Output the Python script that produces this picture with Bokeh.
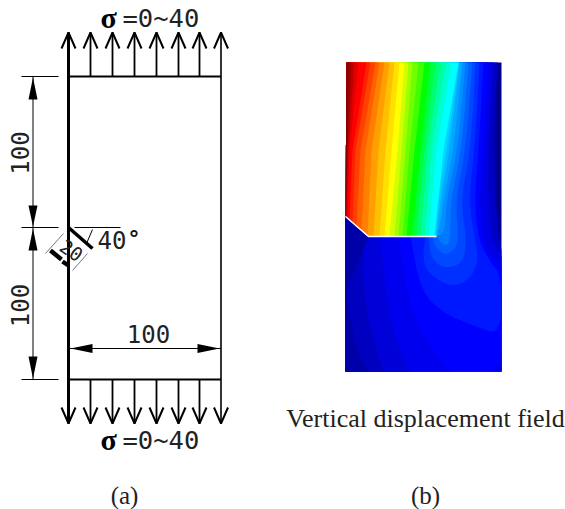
from bokeh.plotting import figure
from bokeh.models import Range1d
from bokeh.core.properties import value
from bokeh.embed import file_html
from bokeh.resources import INLINE
import numpy as np

# ---------- panel (a): specimen sketch, in picture coordinates ----------
load_x = [68, 90, 112, 134, 156, 178, 199, 220.5]
plate_left, plate_right = 68, 220.5
plate_top, plate_mid, plate_bottom = 76, 227, 379
arrow_top_tip, arrow_top_barb = 32, 48
arrow_bot_tip, arrow_bot_barb = 423, 407
barb_half = 7
dim_x = 32.5
dim_y = 348
sigma_label = "\u03c3"
load_label = "=0~40"
dim_label = "100"
angle_label = "40"
degree_label = "\u00b0"
crack_label = "20"

# ---------- panel (b): vertical displacement field ----------
field_left_top, field_right, field_top, field_bottom = 346, 501, 62, 371
crack_x = [345, 368, 436]
crack_y = [216, 236, 236]

# rainbow bands: colour and the x of the band's right edge at top, middle, crack
band_colors = ["#00ffff", "#00ffd0", "#00ffa0", "#00ff70", "#00ff40", "#00ff00",
               "#40ff00", "#70ff00", "#a0ff00", "#d0ff00", "#ffff00", "#ffe000",
               "#ffc000", "#ffa000", "#ff8000", "#ff6000", "#ff4000", "#ff2000",
               "#ff0000", "#e00000", "#c00000", "#a00000", "#800000"]
band_top = [458, 451, 445, 440, 435, 430, 424, 418, 412, 408, 404, 399, 394, 389,
            384, 379, 375, 370, 366, 358, 354, 351, 348]
band_mid = [443, 436, 431, 427, 424, 420, 414, 409, 405, 401, 397, 391, 385, 378,
            371, 365, 360, 355, 352, 349, 348, 347, 346.5]
band_bot = [434, 428, 424, 420, 416, 412, 406, 402, 398, 394, 389, 384, 379, 373,
            367, 361, 356, 352, 349, 347, 346, 345.6, 345.3]

# blue contours, wrapping round the crack tip (polylines)
right_blues = [
    ("#0000c4", [(497, 62), (494, 120), (494, 180), (497, 225), (501, 250)]),
    ("#0000e4", [(493, 62), (489, 120), (487, 180), (490, 225), (493, 243), (501, 256)]),
    ("#0000ff", [(488, 62), (483, 150), (479, 200), (483, 240), (487, 253), (501, 265)]),
]
lower_left_blues = [
    ("#0000ee", [(398, 236), (408, 300), (428, 345), (450, 371)]),
    ("#0000d8", [(380, 236), (385, 290), (395, 340), (410, 371)]),
    ("#0000c0", [(364, 232), (362, 280), (370, 330), (383, 371)]),
    ("#0000a8", [(346, 290), (350, 320), (356, 350), (368, 371)]),
]
corner_blue = [(493, 371), (501, 357), (501, 371)]
lobes = [
    ("#0018ff", [(483, 62), (478, 150), (474, 200), (478, 240), (490, 262), (501, 275),
                 (501, 335), (473, 325), (443, 313), (420, 290), (410, 236)]),
    ("#0030ff", [(479, 62), (474, 150), (468, 200), (474, 237), (478, 260), (470, 278),
                 (452, 287), (430, 275), (422, 260), (425, 236)]),
    ("#0048ff", [(475, 62), (470, 150), (460, 200), (466, 237), (463, 263), (443, 268),
                 (430, 257), (428, 236)]),
    ("#0060ff", [(472, 62), (465, 150), (455, 200), (458, 237), (455, 248), (445, 255),
                 (435, 247), (432, 236)]),
    ("#0078ff", [(468, 62), (461, 150), (450, 200), (450, 237), (447, 245), (441, 243),
                 (436, 236)]),
    ("#0090ff", [(465, 62), (457, 150), (446, 200), (445, 222), (443, 232), (436, 236)]),
    ("#00a8ff", [(462, 62), (453, 150), (443, 200), (440, 222), (436, 236)]),
    ("#00c0ff", [(459, 62), (449, 150), (440, 200), (436, 236)]),
    ("#00d8ff", [(458.5, 62), (446, 150), (438, 200), (435, 236)]),
]

caption_b = "Vertical displacement field"
sub_a, sub_b = "(a)", "(b)"

MONO = value("DejaVu Sans Mono")
SERIF = value("Liberation Serif")


def smooth(pts, rounds=2):
    pts = [tuple(q) for q in pts]
    for _ in range(rounds):
        out = [pts[0]]
        for a, b in zip(pts[:-1], pts[1:]):
            out.append((0.75 * a[0] + 0.25 * b[0], 0.75 * a[1] + 0.25 * b[1]))
            out.append((0.25 * a[0] + 0.75 * b[0], 0.25 * a[1] + 0.75 * b[1]))
        out.append(pts[-1])
        pts = out
    return pts


def crack_tail(x):
    pts = [(cx, cy) for cx, cy in zip(crack_x, crack_y) if cx < x]
    return pts[::-1]


p = figure(width=565, height=509, x_range=Range1d(0, 565), y_range=Range1d(509, 0),
           output_backend="svg", toolbar_location=None, min_border=0)
p.axis.visible = False
p.grid.visible = False
p.outline_line_color = None
p.background_fill_color = "white"
p.border_fill_color = "white"


def poly(pts, color):
    xs, ys = zip(*pts)
    p.patch(list(xs), list(ys), fill_color=color, line_color=None)


# ---- field ----
whole = [(field_left_top, field_top), (field_right, field_top), (field_right, field_bottom),
         (crack_x[0], field_bottom), (crack_x[0], crack_y[0])]
poly(whole, "#000090")
for color, line in right_blues:
    poly([(field_left_top, field_top)] + smooth(line) +
         [(field_right, field_bottom), (crack_x[0], field_bottom), (crack_x[0], crack_y[0])], color)
for color, line in lower_left_blues:
    if line[0][1] >= 232:
        tail = [(crack_x[0], crack_y[0]), (crack_x[1], crack_y[1])]
    else:
        tail = [(crack_x[0], line[0][1])]
    poly(smooth(line) + [(crack_x[0], field_bottom)] + tail, color)
poly(corner_blue, "#0000e8")
for color, line in lobes:
    poly([(field_left_top, field_top)] + smooth(line) + crack_tail(line[-1][0]) +
         [(crack_x[0], crack_y[0])], color)
for color, t, m, b in zip(band_colors, band_top, band_mid, band_bot):
    by = float(np.interp(b, crack_x, crack_y))
    poly([(field_left_top, field_top), (t, field_top), (m, 150), (b, by)] +
         crack_tail(b) + [(crack_x[0], crack_y[0])], color)
p.line(crack_x, crack_y, line_color="white", line_width=1.6)

# ---- plate ----
p.line([plate_left, plate_left], [arrow_top_tip, arrow_bot_tip], line_color="black", line_width=3)
p.line([plate_right, plate_right], [arrow_top_tip, arrow_bot_tip], line_color="black", line_width=1.6)
p.line([plate_left, plate_right], [plate_top, plate_top], line_color="black", line_width=2)
p.line([plate_left, plate_right], [plate_bottom, plate_bottom], line_color="black", line_width=2)
for i, x in enumerate(load_x):
    if i not in (0, len(load_x) - 1):
        p.line([x, x], [arrow_top_tip, plate_top], line_color="black", line_width=1.8)
        p.line([x, x], [plate_bottom, arrow_bot_tip], line_color="black", line_width=1.8)
    p.line([x - barb_half, x, x + barb_half], [arrow_top_barb, arrow_top_tip, arrow_top_barb],
           line_color="black", line_width=2)
    p.line([x - barb_half, x, x + barb_half], [arrow_bot_barb, arrow_bot_tip, arrow_bot_barb],
           line_color="black", line_width=2)

# ---- dimensions ----
p.line([dim_x, dim_x], [plate_top, plate_bottom], line_color="black", line_width=1)
for y in (plate_top, plate_mid, plate_bottom):
    p.line([21, 58], [y, y], line_color="black", line_width=1)
for tip, base in ((plate_top + 1, 99), (plate_mid - 1, 205), (plate_mid + 1, 250), (plate_bottom - 1, 356)):
    poly([(dim_x, tip), (dim_x - 4.5, base), (dim_x + 4.5, base)], "black")
p.line([plate_left, plate_right], [dim_y, dim_y], line_color="black", line_width=1)
for tip, base in ((plate_left + 2, 92), (plate_right - 1.5, 197)):
    poly([(tip, dim_y), (base, dim_y - 4.5), (base, dim_y + 4.5)], "black")

# ---- crack sketch ----
p.line([plate_left, 92], [plate_mid, 248], line_color="black", line_width=3.5)
p.line([74, 120], [plate_mid, plate_mid], line_color="black", line_width=1)
p.line([92, 86], [229, 243], line_color="black", line_width=1)
p.line([63, 45], [233, 253], line_color="#777777", line_width=1)
p.line([87, 72], [253, 270], line_color="#777777", line_width=1)
p.line([50, 61], [250, 259], line_color="black", line_width=4.5)
p.line([62, 68], [261, 265], line_color="black", line_width=4.5)

# ---- texts ----
p.text([19.5, 19.5], [152.5, 305], text=[dim_label, dim_label], angle=np.pi / 2, text_font=MONO,
       text_font_size="24px", text_color="#222222", text_align="center", text_baseline="middle")
p.text([148], [333], text=[dim_label], text_font=MONO, text_font_size="24px",
       text_color="#222222", text_align="center", text_baseline="middle")
p.text([97], [239], text=[angle_label], text_font=MONO, text_font_size="24px",
       text_color="#222222", text_align="left", text_baseline="middle")
p.text([128], [238], text=[degree_label], text_font=value("DejaVu Sans"), text_font_style="bold",
       text_font_size="22px", text_color="#111111", text_align="left", text_baseline="middle")
p.text([71], [250], text=[crack_label], angle=-0.6, text_font=MONO, text_font_size="19px",
       text_color="#222222", text_align="center", text_baseline="middle")
for y in (18, 440):
    p.text([100], [y - 1], text=[sigma_label], text_font=SERIF, text_font_style="bold",
           text_font_size="30px", text_color="black", text_align="left", text_baseline="middle")
    p.text([122], [y - 1], text=[load_label], text_font=MONO, text_font_size="25.5px",
           text_color="#222222", text_align="left", text_baseline="middle")
p.text([425], [418], text=[caption_b], text_font=SERIF, text_font_size="26px",
       text_color="#222222", text_align="center", text_baseline="middle")
p.text([124, 425], [495, 495], text=[sub_a, sub_b], text_font=SERIF, text_font_size="25px",
       text_color="#222222", text_align="center", text_baseline="middle")

open("out.html", "w").write(file_html(p, INLINE))
